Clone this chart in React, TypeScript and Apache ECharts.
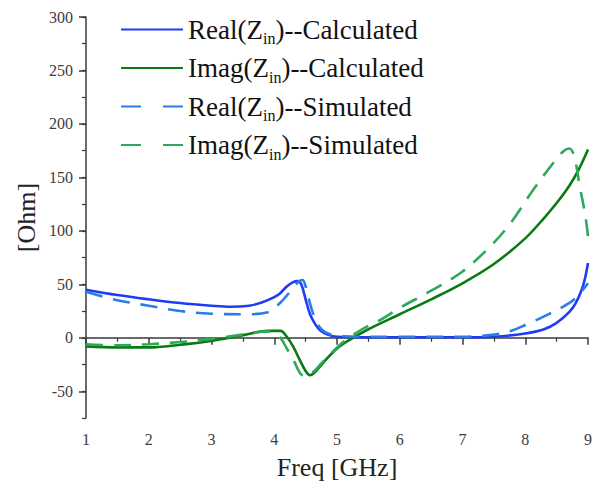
import React, { useEffect, useRef } from "react";
import * as echarts from "echarts";

const freqRealCalc = [1, 1.5, 2, 2.5, 3, 3.3, 3.6, 3.8, 4.0, 4.1, 4.2, 4.3, 4.37, 4.43, 4.5, 4.57, 4.65, 4.73, 4.85, 5.0, 5.5, 6, 6.5, 7, 7.5, 8.0, 8.3, 8.5, 8.7, 8.8, 8.9, 8.95, 9];
const realCalc = [45, 40, 36, 32.5, 30, 29, 30, 33, 38, 42, 48, 52, 53, 50, 36, 22, 13, 7, 3, 1, 0.5, 0.5, 0.5, 0.5, 1, 4, 8, 14, 24, 32, 45, 55, 70];

const freqImagCalc = [1, 1.5, 2, 2.5, 3, 3.5, 3.9, 4.1, 4.2, 4.3, 4.4, 4.5, 4.57, 4.65, 4.8, 5.0, 5.2, 5.5, 6, 6.5, 7, 7.5, 8, 8.3, 8.5, 8.7, 8.85, 9];
const imagCalc = [-8, -9, -9, -6.5, -3, 2.5, 6.5, 6.5, 1, -8, -20, -31, -35, -32, -22, -10, -2, 8, 22, 36, 51, 69, 93, 112, 126, 142, 157, 176];

const freqRealSim = [1, 1.3, 1.6, 2, 2.5, 3, 3.5, 3.9, 4.1, 4.25, 4.38, 4.45, 4.5, 4.58, 4.65, 4.75, 4.9, 5.1, 5.5, 6, 6.5, 7, 7.5, 7.8, 8.0, 8.3, 8.6, 8.8, 9];
const realSim = [43, 38, 34, 30, 25, 22.5, 22, 24, 33, 43, 52, 54, 48, 30, 18, 8, 3, 1.5, 1, 1, 1, 1, 3, 7, 12, 20, 29, 37, 51];

const freqImagSim = [1, 1.5, 2, 2.5, 3, 3.5, 3.9, 4.0, 4.1, 4.2, 4.3, 4.41, 4.49, 4.62, 4.75, 4.9, 5.1, 5.4, 5.7, 6.0, 6.5, 7.0, 7.5, 7.8, 8.1, 8.4, 8.6, 8.7, 8.78, 8.87, 8.95, 9];
const imagSim = [-6, -7, -6, -4, -1, 3, 6, 4, 0, -10, -20, -33, -36, -32, -24, -15, -4, 8, 17, 28, 44, 62, 89, 110, 136, 160, 174, 177, 170, 141, 117, 95];

const seriesNames = [
  "Real(Z{sub|in})--Calculated",
  "Imag(Z{sub|in})--Calculated",
  "Real(Z{sub|in})--Simulated",
  "Imag(Z{sub|in})--Simulated",
];
const yMajorTicks = [-50, 0, 50, 100, 150, 200, 250, 300];

const zip = (xs: number[], ys: number[]) => xs.map((x, i) => [x, ys[i]]);

export default function App() {
  const ref = useRef<HTMLDivElement>(null);
  useEffect(() => {
    if (!ref.current) return;
    const chart = echarts.init(ref.current, null, { renderer: "svg" });
    const font = "Liberation Serif";
    const axisColor = "#3a3a3a";
    const labelColor = "#3c3c3c";
    const colors = ["#1f3cf5", "#0b7a12", "#2a7de6", "#2ea85a"];
    const mk = (i: number, data: number[][], dashed: boolean) => ({
      type: "line",
      name: seriesNames[i],
      data,
      symbol: "none",
      showSymbol: false,
      smooth: 0.35,
      color: colors[i],
      itemStyle: { color: colors[i], opacity: 0 },
      lineStyle: { width: 2.6, color: colors[i], type: dashed ? [17, 11] : "solid" },
      z: dashed ? 3 : 2,
    });
    chart.setOption({
      animation: false,
      backgroundColor: "#fff",
      grid: { left: 86, right: 11, top: 17, bottom: 72, containLabel: false },
      legend: {
        orient: "vertical",
        left: 115,
        top: 11,
        itemWidth: 62,
        itemHeight: 14,
        itemGap: 8,
        itemStyle: { opacity: 0 },
        textStyle: {
          fontFamily: font,
          fontSize: 27,
          color: "#111",
          lineHeight: 26,
          rich: {
            sub: { fontFamily: font, fontSize: 16, lineHeight: 16, padding: [14, 0, 0, 0], verticalAlign: "top", color: "#111" },
          },
        },
        data: [
          { name: seriesNames[0] },
          { name: seriesNames[1] },
          { name: seriesNames[2], lineStyle: { type: [20, 22] } },
          { name: seriesNames[3], lineStyle: { type: [20, 22] } },
        ],
      },
      xAxis: {
        type: "value",
        min: 1,
        max: 9,
        interval: 1,
        name: "Freq [GHz]",
        nameLocation: "middle",
        nameGap: 36,
        nameTextStyle: { fontFamily: font, fontSize: 26, color: "#222" },
        axisLine: { show: true, lineStyle: { color: axisColor, width: 1.5 } },
        axisTick: { show: true, length: 7, inside: false, lineStyle: { color: axisColor, width: 1.5 } },
        minorTick: { show: true, splitNumber: 2, length: 4, lineStyle: { color: axisColor, width: 1.2 } },
        axisLabel: { fontFamily: font, fontSize: 16, color: labelColor, margin: 13 },
        splitLine: { show: false },
      },
      yAxis: [
        {
          type: "value",
          min: -75,
          max: 300,
          interval: 25,
          position: "left",
          name: "[Ohm]",
          nameLocation: "middle",
          nameGap: 47,
          nameRotate: 90,
          nameTextStyle: { fontFamily: font, fontSize: 26, color: "#222" },
          axisLine: { show: true, lineStyle: { color: axisColor, width: 1.5 } },
          axisTick: { show: true, length: 4, lineStyle: { color: axisColor, width: 1.2 } },
          axisLabel: { show: false },
          splitLine: { show: false },
        },
        {
          type: "value",
          min: -75,
          max: 300,
          interval: 25,
          position: "left",
          axisLine: { show: false },
          axisTick: { show: true, length: 7, customValues: yMajorTicks, lineStyle: { color: axisColor, width: 1.5 } },
          axisLabel: { show: true, customValues: yMajorTicks, fontFamily: font, fontSize: 16, color: labelColor, margin: 13 },
          splitLine: { show: false },
        },
      ],
      series: [
        mk(0, zip(freqRealCalc, realCalc), false),
        mk(1, zip(freqImagCalc, imagCalc), false),
        mk(2, zip(freqRealSim, realSim), true),
        mk(3, zip(freqImagSim, imagSim), true),
      ],
    });
    return () => chart.dispose();
  }, []);
  return <div ref={ref} style={{ width: 599, height: 490, position: "absolute", left: 0, top: 0 }} />;
}
